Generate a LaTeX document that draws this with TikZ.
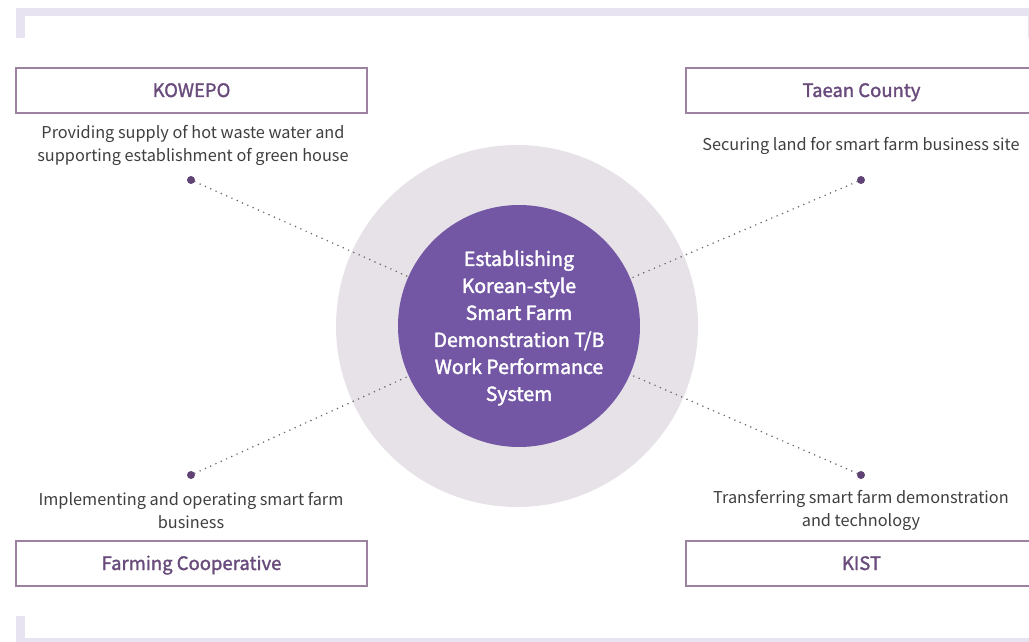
\documentclass[tikz,border=0pt]{standalone}
\usepackage{fontspec}
\setmainfont{Noto Sans CJK KR}
\newfontfamily\medfont{Noto Sans CJK KR}[FakeBold=1.6]
\newfontfamily\semifont{Noto Sans CJK KR}[FakeBold=1.9]
\definecolor{bracketc}{HTML}{E8E3F0}
\definecolor{boxborder}{HTML}{9C82A0}
\definecolor{titlec}{HTML}{6A4C7C}
\definecolor{descc}{HTML}{3F3F3F}
\definecolor{dotc}{HTML}{604374}
\definecolor{outerc}{HTML}{E6E2E8}
\definecolor{innerc}{HTML}{7357A4}
\definecolor{linec}{HTML}{666666}
\tikzset{
  actorbox/.style={draw=boxborder, line width=2pt, fill=white, minimum width=351pt, minimum height=45pt, inner sep=0pt, text height=17pt, text depth=4pt, text=titlec, font=\medfont\fontsize{18.5}{22}\selectfont},
  desc/.style={align=center, text=descc, inner sep=0pt, font=\fontsize{16.3}{23}\selectfont},
  enddot/.style={circle, fill=dotc, minimum size=8pt, inner sep=0pt},
  link/.style={linec, line width=1.7pt, dash pattern=on 0pt off 5.8pt, line cap=round},
  hub/.style={circle, fill=innerc, minimum size=242pt, inner sep=0pt},
  hubtext/.style={align=center, text=white, inner sep=0pt, font=\semifont\fontsize{19.5}{27}\selectfont}
}
\begin{document}
\begin{tikzpicture}[x=1pt,y=-1pt]
\useasboundingbox (0,0) rectangle (1029,642);
% brackets
\fill[bracketc] (16,8) rectangle (1040,16);
\fill[bracketc] (16,8) rectangle (25,38);
\fill[bracketc] (1028,8) rectangle (1037,38);
\fill[bracketc] (16,616) rectangle (25,646);
\fill[bracketc] (16,638) rectangle (1040,646);
% outer circle
\fill[outerc] (517,326) circle (181);
% hub
\node[hub] (hub) at (519,326) {};
\node[hubtext] (hubt) at (519,328) {Establishing\\Korean-style\\Smart Farm\\Demonstration T/B\\Work Performance\\System};
% boxes
\node[actorbox] (kowepo) at (191.5,90.5) {KOWEPO};
\node[actorbox] (taean) at (861.5,90.5) {Taean County};
\node[actorbox] (farm) at (191.5,563.5) {Farming Cooperative};
\node[actorbox] (kist) at (861.5,563.5) {KIST};
% descriptions
\node[desc] (dkowepo) at (193,145) {Providing supply of hot waste water and\\supporting establishment of green house};
\node[desc] (dtaean) at (861,145.5) {Securing land for smart farm business site};
\node[desc] (dfarm) at (191,510.5) {Implementing and operating smart farm\\business};
\node[desc] (dkist) at (861,510.5) {Transferring smart farm demonstration\\and technology};
% dots
\node[enddot] (p1) at (191,180) {};
\node[enddot] (p2) at (861,180) {};
\node[enddot] (p3) at (191,475) {};
\node[enddot] (p4) at (861,475) {};
% links
\draw[link] (p1) -- (hub);
\draw[link] (p2) -- (hub);
\draw[link] (p3) -- (hub);
\draw[link] (p4) -- (hub);
\end{tikzpicture}
\end{document}
